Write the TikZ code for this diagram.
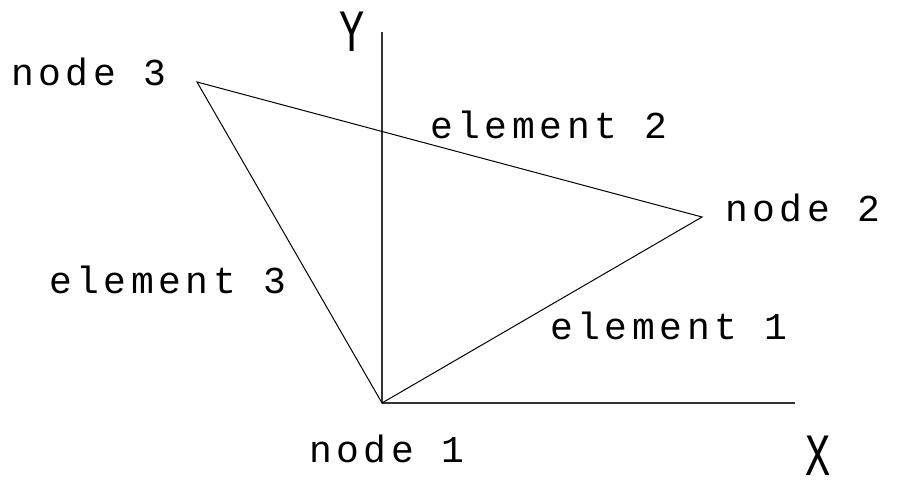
\documentclass[tikz,border=0pt]{standalone}
\usepackage{fontspec}
\setmonofont{Liberation Mono}
\usepackage{tikz}
\usetikzlibrary{positioning}

\begin{document}
\begin{tikzpicture}[x=1pt, y=-1pt, every node/.style={inner sep=0pt},
  lbl/.style={font=\ttfamily\fontsize{38}{38}\selectfont\addfontfeature{LetterSpace=12}, anchor=base west},
  axlbl/.style={font=\ttfamily\fontsize{60}{60}\selectfont, anchor=base west},
  axis/.style={line width=1.2pt, black!80},
  member/.style={line width=1pt, black}]
\useasboundingbox (0,0) rectangle (898,487);
% joints and axis ends
\coordinate (n1) at (382,403);
\coordinate (n2) at (702,217);
\coordinate (n3) at (197,82);
\coordinate (xend) at (795,403);
\coordinate (yend) at (382,32);
% axes
\draw[axis] (n1) -- (xend);
\draw[axis] (n1) -- (yend);
\node[axlbl] (X) at (805,475) {\scalebox{0.7}[1]{X}};
\node[axlbl] (Y) at (339,52) {\scalebox{0.7}[1]{Y}};
% elements
\draw[member] (n1) -- (n2) -- (n3) -- cycle;
\node[lbl] (e1) at (550,339) {element 1};
\node[lbl] (e2) at (430,139) {element 2};
\node[lbl] (e3) at (49,293) {element 3};
% node labels
\node[lbl] (l1) at (309,462) {node 1};
\node[lbl] (l2) at (725,221) {node 2};
\node[lbl] (l3) at (11,86) {node 3};
\end{tikzpicture}
\end{document}
